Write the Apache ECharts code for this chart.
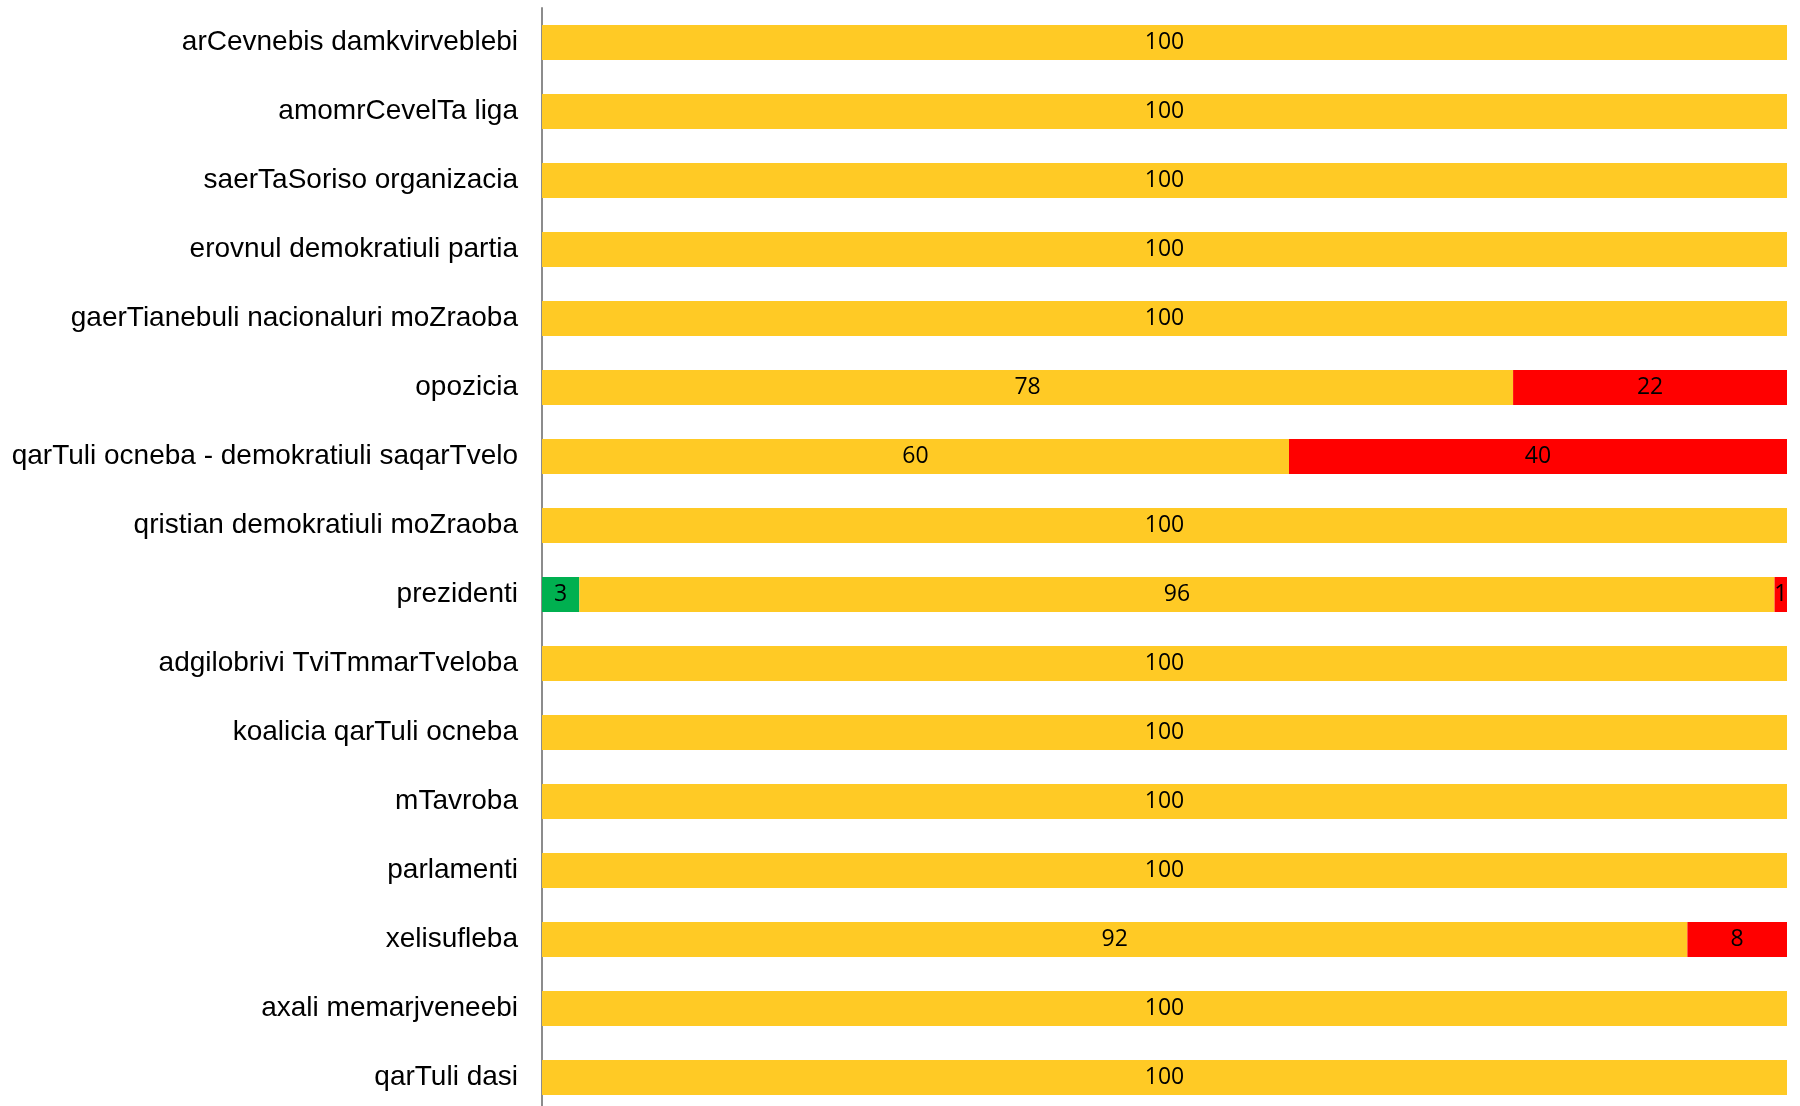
<!DOCTYPE html>
<html>
<head>
<meta charset="utf-8">
<script src="https://cdn.jsdelivr.net/npm/echarts@6/dist/echarts.min.js"></script>
<style>
html, body { margin: 0; padding: 0; background: #fff; overflow: hidden; }
#chart { width: 1800px; height: 1130px; }
</style>
</head>
<body>
<div id="chart"></div>
<script>
var categories = [
    'arCevnebis damkvirveblebi',
    'amomrCevelTa liga',
    'saerTaSoriso organizacia',
    'erovnul demokratiuli partia',
    'gaerTianebuli nacionaluri moZraoba',
    'opozicia',
    'qarTuli ocneba - demokratiuli saqarTvelo',
    'qristian demokratiuli moZraoba',
    'prezidenti',
    'adgilobrivi TviTmmarTveloba',
    'koalicia qarTuli ocneba',
    'mTavroba',
    'parlamenti',
    'xelisufleba',
    'axali memarjveneebi',
    'qarTuli dasi'
];
var greenVals  = [0, 0, 0, 0, 0, 0, 0, 0, 3, 0, 0, 0, 0, 0, 0, 0];
var yellowVals = [100, 100, 100, 100, 100, 78, 60, 100, 96, 100, 100, 100, 100, 92, 100, 100];
var redVals    = [0, 0, 0, 0, 0, 22, 40, 0, 1, 0, 0, 0, 0, 8, 0, 0];

function showBars() {
    var myChart = echarts.init(document.getElementById('chart'));
    var lbl = {
        show: true,
        position: 'inside',
        color: '#000',
        fontFamily: 'Open Sans',
        fontSize: 23,
        formatter: function (p) { return p.value ? p.value : ''; }
    };
    var option = {
        animation: false,
        grid: { left: 542, right: 13, top: 8, height: 1104 },
        xAxis: {
            type: 'value',
            min: 0,
            max: 100,
            show: false
        },
        yAxis: {
            type: 'category',
            inverse: true,
            data: categories,
            axisLine: { show: true, lineStyle: { color: '#8c8c8c', width: 2 } },
            axisTick: { show: false },
            axisLabel: {
                color: '#000',
                fontFamily: 'Liberation Sans',
                fontSize: 28,
                margin: 24
            }
        },
        series: [
            { name: 'green', type: 'bar', stack: 'all', data: greenVals, barWidth: 35,
              itemStyle: { color: '#00B050' }, label: lbl },
            { name: 'yellow', type: 'bar', stack: 'all', data: yellowVals, barWidth: 35,
              itemStyle: { color: '#FFCA25' }, label: lbl },
            { name: 'red', type: 'bar', stack: 'all', data: redVals, barWidth: 35,
              itemStyle: { color: '#FF0000' }, label: lbl }
        ]
    };
    myChart.setOption(option);
}
showBars();
</script>
</body>
</html>
